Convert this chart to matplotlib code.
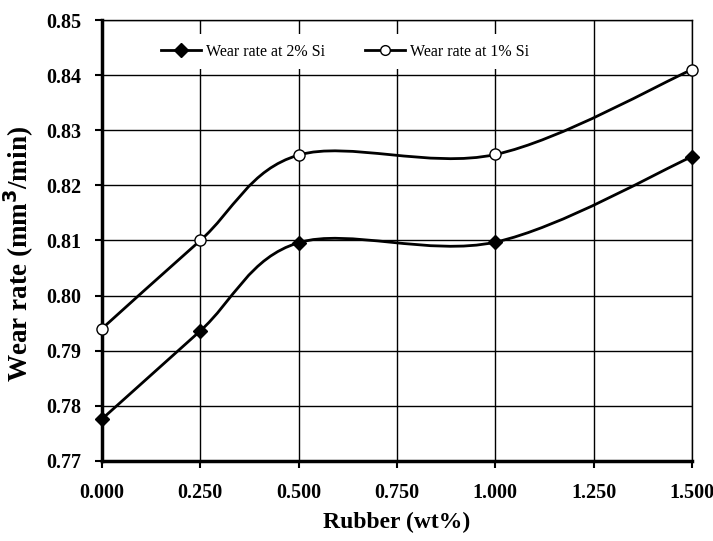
import numpy as np
import matplotlib.pyplot as plt
from matplotlib.path import Path
from matplotlib.patches import PathPatch
from matplotlib.lines import Line2D

plt.rcParams['font.family'] = 'Liberation Serif'

rubber = [0.0, 0.25, 0.5, 1.0, 1.5]
wear_2si = [0.7776, 0.7936, 0.8096, 0.8097, 0.8252]
wear_1si = [0.7940, 0.8100, 0.8255, 0.8256, 0.8410]
x_ticks = [0.0, 0.25, 0.5, 0.75, 1.0, 1.25, 1.5]
y_ticks = [0.77, 0.78, 0.79, 0.80, 0.81, 0.82, 0.83, 0.84, 0.85]


def smooth_path(xs, ys):
    # excel style smoothed line: cubic bezier, control points from neighbours / 6
    p = np.column_stack([xs, ys])
    n = len(p)
    verts = [p[0]]
    codes = [Path.MOVETO]
    for i in range(n - 1):
        prev = p[i - 1] if i > 0 else p[i]
        nxt = p[i + 2] if i + 2 < n else p[i + 1]
        c1 = p[i] + (p[i + 1] - prev) / 6.0
        c2 = p[i + 1] - (nxt - p[i]) / 6.0
        verts += [c1, c2, p[i + 1]]
        codes += [Path.CURVE4] * 3
    return Path(verts, codes)


fig = plt.figure(figsize=(7.13, 5.41), dpi=100)
ax = fig.add_axes([0.143, 0.148, 0.8275, 0.815])

for ys in (wear_2si, wear_1si):
    ax.add_patch(PathPatch(smooth_path(rubber, ys), fill=False, lw=2.0,
                           edgecolor='black', zorder=3))

ax.plot(rubber, wear_2si, linestyle='none', marker='D', ms=7.5,
        color='black', zorder=4, clip_on=False)
ax.plot(rubber, wear_1si, linestyle='none', marker='o', ms=8,
        mfc='white', mec='black', mew=1.0, zorder=4, clip_on=False)

ax.set_xlim(0, 1.5)
ax.set_ylim(0.77, 0.85)
ax.set_xticks(x_ticks)
ax.set_yticks(y_ticks)
ax.set_xticklabels(['%.3f' % v for v in x_ticks])
ax.set_yticklabels(['%.2f' % v for v in y_ticks])
ax.grid(True, color='black', lw=1.0)
ax.set_axisbelow(True)

for s in ['left', 'bottom']:
    ax.spines[s].set_linewidth(2.5)
for s in ['top', 'right']:
    ax.spines[s].set_linewidth(1.0)
ax.tick_params(axis='both', direction='out', length=5, width=1.5,
               labelsize=14.5)
ax.tick_params(axis='x', pad=11)
ax.tick_params(axis='y', pad=10)
for lab in ax.get_xticklabels() + ax.get_yticklabels():
    lab.set_fontweight('bold')

ax.set_xlabel('Rubber (wt%)', fontsize=17, fontweight='bold')
ax.set_ylabel('Wear rate (mm$^\\mathbf{3}$/min)', fontsize=19.5,
              fontweight='bold')
ax.xaxis.set_label_coords(0.5, -0.115)
ax.yaxis.set_label_coords(-0.112, 0.47)

handles = [
    Line2D([], [], color='black', lw=2.0, marker='D', ms=7),
    Line2D([], [], color='black', lw=2.0, marker='o', ms=7,
           mfc='white', mec='black'),
]
leg = ax.legend(handles, ['Wear rate at 2% Si', 'Wear rate at 1% Si'],
                ncol=2, loc='center', bbox_to_anchor=(0.412, 0.928),
                fontsize=11.5, frameon=True, fancybox=False, framealpha=1,
                edgecolor='none', facecolor='white', handlelength=2.5,
                columnspacing=2.5, handletextpad=0.3, borderpad=0.6)

fig.savefig('out.png', dpi=100)
